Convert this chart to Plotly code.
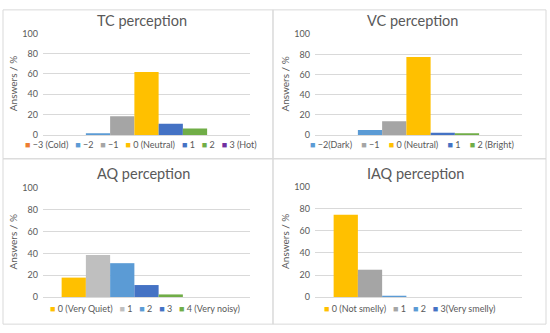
import plotly.graph_objects as go

W, H = 550, 333

# ---------------- data ----------------
TC_TITLE = "TC perception"
TC_LABELS = ["−3 (Cold)", "−2", "−1", "0 (Neutral)", "1", "2", "3 (Hot)"]
TC_VALUES = [0, 0.6, 18.4, 62, 11, 6.3, 0]
TC_COLORS = ["#ED7D31", "#5B9BD5", "#A5A5A5", "#FFC000", "#4472C4", "#70AD47", "#7030A0"]

VC_TITLE = "VC perception"
VC_LABELS = ["−2(Dark)", "−1", "0 (Neutral)", "1", "2 (Bright)"]
VC_VALUES = [4.8, 13.5, 77.5, 2.2, 0.7]
VC_COLORS = ["#5B9BD5", "#A5A5A5", "#FFC000", "#4472C4", "#70AD47"]

AQ_TITLE = "AQ perception"
AQ_LABELS = ["0 (Very Quiet)", "1", "2", "3", "4 (Very noisy)"]
AQ_VALUES = [17.8, 38.6, 31.0, 11.0, 2.4]
AQ_COLORS = ["#FFC000", "#BFBFBF", "#5B9BD5", "#4472C4", "#70AD47"]

IAQ_TITLE = "IAQ perception"
IAQ_LABELS = ["0 (Not smelly)", "1", "2", "3(Very smelly)"]
IAQ_VALUES = [74.6, 24.8, 1.2, 0]
IAQ_COLORS = ["#FFC000", "#A5A5A5", "#5B9BD5", "#4472C4"]

Y_TICKS = [0, 20, 40, 60, 80, 100]
Y_LABEL = "Answers / %"

# ---------------- layout helpers ----------------
FONT = "Lato, 'Open Sans', sans-serif"
TXT = "#595959"
GRID = "#D9D9D9"
SLOTS = 7  # the workbook reserves 7 series slots per chart

def px(x):
    return x / W

def py(y):
    return 1 - y / H

panels = [
    # title, labels, values, colors, leading empty slots, plot box (x0,x1,ytop,ybot), title pos, legend pos, legend gap
    (TC_TITLE, TC_LABELS, TC_VALUES, TC_COLORS, 0, (43, 250, 28.3, 133.3), (142, 15), (141, 143), 3),
    (VC_TITLE, VC_LABELS, VC_VALUES, VC_COLORS, 1, (315, 522, 29.3, 133.3), (412, 15), (412, 143), 4),
    (AQ_TITLE, AQ_LABELS, AQ_VALUES, AQ_COLORS, 0, (43, 250, 188, 301), (143, 173), (145, 313), 3),
    (IAQ_TITLE, IAQ_LABELS, IAQ_VALUES, IAQ_COLORS, 0, (315, 522, 187, 301), (415, 173), (410, 313), 3),
]

fig = go.Figure()
annotations = []
shapes = []

for i, (title, labels, values, colors, lead, box, tpos, lpos, lgap) in enumerate(panels):
    n = i + 1
    xa = "x" if n == 1 else f"x{n}"
    ya = "y" if n == 1 else f"y{n}"
    cat = [title]
    slot = 0
    # leading empty slots
    for _ in range(lead):
        fig.add_trace(go.Bar(x=cat, y=[0], xaxis=xa, yaxis=ya, showlegend=False,
                             hoverinfo="skip", marker=dict(color="rgba(0,0,0,0)", line=dict(width=0))))
        slot += 1
    for lab, val, col in zip(labels, values, colors):
        fig.add_trace(go.Bar(x=cat, y=[val], name=lab, xaxis=xa, yaxis=ya, showlegend=False,
                             marker=dict(color=col, line=dict(width=0))))
        slot += 1
    while slot < SLOTS:
        fig.add_trace(go.Bar(x=cat, y=[0], xaxis=xa, yaxis=ya, showlegend=False,
                             hoverinfo="skip", marker=dict(color="rgba(0,0,0,0)", line=dict(width=0))))
        slot += 1

    x0, x1, yt, yb = box
    xkey = "xaxis" if n == 1 else f"xaxis{n}"
    ykey = "yaxis" if n == 1 else f"yaxis{n}"
    fig.update_layout(**{
        xkey: dict(domain=[px(x0), px(x1)], anchor=ya, showticklabels=False, ticks="",
                   showgrid=False, zeroline=False, showline=True, linecolor=GRID, linewidth=1,
                   fixedrange=True),
        ykey: dict(domain=[py(yb), py(yt)], anchor=xa, range=[0, 100], tickvals=Y_TICKS,
                   showgrid=True, gridcolor=GRID, gridwidth=1, zeroline=False, showline=False,
                   tickfont=dict(family=FONT, size=9, color=TXT), ticks="", ticklabelstandoff=4,
                   fixedrange=True),
    })

    # title
    annotations.append(dict(text=title, x=px(tpos[0]), y=py(tpos[1]), xref="paper", yref="paper",
                            showarrow=False, xanchor="center", yanchor="middle",
                            font=dict(family=FONT, size=14.5, color=TXT)))
    # y axis label
    annotations.append(dict(text=Y_LABEL, x=px(x0 - 30), y=py((yt + yb) / 2), xref="paper", yref="paper",
                            showarrow=False, textangle=-90, xanchor="center", yanchor="middle",
                            font=dict(family=FONT, size=10, color=TXT)))
    # legend (compact, Excel style)
    parts = [f"<span style='color:{c}'>■</span> {l}" for l, c in zip(labels, colors)]
    annotations.append(dict(text=(" " * lgap).join(parts), x=px(lpos[0]), y=py(lpos[1]),
                            xref="paper", yref="paper",
                            showarrow=False, xanchor="center", yanchor="middle",
                            font=dict(family=FONT, size=9, color=TXT)))

# panel borders
for (bx0, bx1, by0, by1) in [(3, 273, 4, 158), (273, 546, 4, 158), (3, 273, 158, 329), (273, 546, 158, 329)]:
    shapes.append(dict(type="rect", xref="paper", yref="paper",
                       x0=px(bx0), x1=px(bx1), y0=py(by1), y1=py(by0),
                       line=dict(color=GRID, width=1), fillcolor="rgba(0,0,0,0)", layer="below"))

fig.update_layout(
    width=W, height=H,
    margin=dict(l=0, r=0, t=0, b=0),
    paper_bgcolor="white", plot_bgcolor="white",
    barmode="group", bargap=0.18, bargroupgap=0,
    showlegend=False,
    annotations=annotations, shapes=shapes,
    font=dict(family=FONT, color=TXT),
)

fig.write_html("out.html", config={"displayModeBar": False},
               post_script="document.body.style.margin='0';document.body.style.padding='0';"
                           "document.documentElement.style.overflow='hidden';")
